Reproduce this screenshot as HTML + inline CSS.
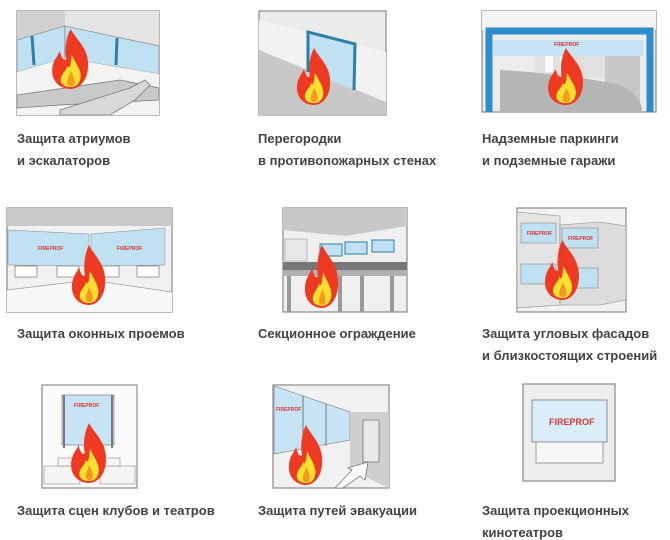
<!DOCTYPE html>
<html><head><meta charset="utf-8"><style>
html,body{margin:0;padding:0;background:#fff;}
svg{display:block}
text{font-family:"Liberation Sans","DejaVu Sans",sans-serif;font-weight:bold;font-size:13px;fill:#434343;}
.fp{font-size:5px;fill:#d9343a;font-weight:bold}
</style></head><body>
<svg width="670" height="540" viewBox="0 0 670 540" xmlns="http://www.w3.org/2000/svg">
<defs>
<g id="fl">
<path d="M20 0 C26 12 38 20 36 40 C35 52 28 60 20 60 C10 60 2 52 3 40 C4 30 8 28 10 22 C12 30 14 32 16 30 C14 20 16 8 20 0 Z" fill="#ef3a23"/>
<path d="M21 26 C25 35 31 42 29 50 C28 56 24 58 20 58 C14 58 10 55 11 49 C12 44 16 42 17 37 C19 40 20 38 21 26 Z" fill="#ffe030"/>
<path d="M20 42 C23 47 25 52 23 56 C21 58 18 57 17 55 C16 51 19 47 20 42 Z" fill="#f59a1f"/>
</g>
</defs>

<!-- P1 -->
<g>
<rect x="17" y="11" width="142" height="104" fill="#ececec" stroke="#8a8a8a" stroke-width="1.2"/>
<rect x="17" y="11" width="48" height="58" fill="#d0d0d0"/>
<polygon points="65,11 159,11 159,58 65,26" fill="#e4e4e4"/>
<polygon points="17,40 65,26 65,58 17,72" fill="#bfe1f1" stroke="#777" stroke-width="0.6"/>
<polygon points="65,26 159,46 159,74 65,58" fill="#bfe1f1" stroke="#777" stroke-width="0.6"/>
<line x1="32" y1="36" x2="34" y2="65" stroke="#2e7fa8" stroke-width="3"/>
<line x1="117" y1="38" x2="116" y2="65" stroke="#2e7fa8" stroke-width="3"/>
<polygon points="17,72 65,58 159,74 159,115 17,115" fill="#f3f3f3"/>
<polygon points="17,95 120,80 159,88 159,100 60,105 17,108" fill="#c9c9c9" stroke="#777" stroke-width="0.8"/>
<polygon points="60,110 130,88 145,80 150,85 135,100 110,115 60,115" fill="#d8d8d8" stroke="#777" stroke-width="0.8"/>
<use href="#fl" transform="translate(49,29) scale(1.08,1.0)"/>
</g>
<text x="17" y="143">Защита атриумов</text>
<text x="17" y="165">и эскалаторов</text>

<!-- P2 -->
<g>
<rect x="259" y="11" width="127" height="104" fill="#ebebeb" stroke="#8a8a8a" stroke-width="1.2"/>
<polygon points="259,20 386,52 386,102 259,50" fill="#f2f2f2"/>
<polygon points="259,50 386,102 386,115 259,115" fill="#c8c8c8"/>
<polygon points="308,32 355,44 354,90 308,72" fill="#bfe1f1"/>
<polyline points="308,72 308,32 355,44 354,90" fill="none" stroke="#2e7fa8" stroke-width="3"/>
<use href="#fl" transform="translate(294,48) scale(1.0,0.95)"/>
</g>
<text x="258" y="143">Перегородки</text>
<text x="258" y="165">в противопожарных стенах</text>

<!-- P3 -->
<g>
<rect x="482" y="11" width="174" height="101" fill="#ececec" stroke="#8a8a8a" stroke-width="1.2"/>
<rect x="482" y="11" width="174" height="19" fill="#f4f4f4"/>
<rect x="493" y="40" width="150" height="16" fill="#c6e4f3"/>
<rect x="535" y="56" width="75" height="22" fill="#e0e0e0"/>
<rect x="545" y="56" width="8" height="16" fill="#fafafa"/><rect x="560" y="56" width="8" height="16" fill="#fafafa"/>
<rect x="605" y="56" width="35" height="56" fill="#c8c8c8"/>
<path d="M500 70 C540 72 590 78 620 85 C640 95 642 105 642 112 L500 112 Z" fill="#b5b5b5"/>
<polyline points="489,112 489,31 650,31 650,112" fill="none" stroke="#2e8ccc" stroke-width="7"/>
<text class="fp" x="554" y="46">FIREPROF</text>
<use href="#fl" transform="translate(545,48) scale(1.05,0.95)"/>
</g>
<text x="482" y="143">Надземные паркинги</text>
<text x="482" y="165">и подземные гаражи</text>

<!-- P4 -->
<g>
<rect x="7" y="208" width="165" height="104" fill="#f1f1f1" stroke="#8a8a8a" stroke-width="1.2"/>
<rect x="7" y="208" width="165" height="18" fill="#c9c9c9"/>
<polygon points="8,230 89,234 89,266 8,265" fill="#bfe1f1" stroke="#888" stroke-width="0.5"/>
<polygon points="91,234 165,228 165,265 91,266" fill="#bfe1f1" stroke="#888" stroke-width="0.5"/>
<rect x="15" y="266" width="22" height="11" fill="#fff" stroke="#777" stroke-width="0.7"/>
<rect x="57" y="266" width="22" height="11" fill="#fff" stroke="#777" stroke-width="0.7"/>
<rect x="97" y="266" width="22" height="11" fill="#fff" stroke="#777" stroke-width="0.7"/>
<rect x="137" y="266" width="22" height="11" fill="#fff" stroke="#777" stroke-width="0.7"/>
<polygon points="7,290 90,280 172,292 172,312 7,312" fill="#f7f7f7"/>
<polyline points="7,290 90,280 172,292" fill="none" stroke="#999" stroke-width="0.7"/>
<text class="fp" x="38" y="250">FIREPROF</text><text class="fp" x="117" y="250">FIREPROF</text>
<use href="#fl" transform="translate(69,245) scale(1.0,1.0)"/>
</g>
<text x="17" y="338">Защита оконных проемов</text>

<!-- P5 -->
<g>
<rect x="283" y="208" width="124" height="104" fill="#efefef" stroke="#8a8a8a" stroke-width="1.2"/>
<polygon points="283,208 407,208 407,226 345,236 283,230" fill="#c8c8c8"/>
<rect x="285" y="239" width="22" height="22" fill="#e8e8e8" stroke="#999" stroke-width="0.6"/>
<rect x="320" y="244" width="22" height="12" fill="#bfe1f1" stroke="#2e7fa8" stroke-width="1"/>
<rect x="345" y="242" width="22" height="12" fill="#bfe1f1" stroke="#2e7fa8" stroke-width="1"/>
<rect x="372" y="240" width="22" height="12" fill="#bfe1f1" stroke="#2e7fa8" stroke-width="1"/>
<rect x="283" y="262" width="124" height="8" fill="#777"/>
<rect x="283" y="270" width="124" height="6" fill="#b0b0b0"/>
<rect x="287" y="276" width="4" height="36" fill="#999"/>
<rect x="338" y="276" width="4" height="36" fill="#999"/>
<rect x="360" y="276" width="4" height="36" fill="#999"/>
<rect x="390" y="276" width="4" height="36" fill="#999"/>
<use href="#fl" transform="translate(302,245) scale(1.0,1.05)"/>
</g>
<text x="258" y="338">Секционное ограждение</text>

<!-- P6 -->
<g>
<rect x="517" y="208" width="109" height="104" fill="#f1f1f1" stroke="#8a8a8a" stroke-width="1.2"/>
<polygon points="517,212 560,216 560,305 517,308" fill="#e4e4e4" stroke="#888" stroke-width="0.6"/>
<polygon points="560,225 600,222 626,226 626,300 600,305 560,305" fill="#dcdcdc" stroke="#888" stroke-width="0.6"/>
<rect x="521" y="223" width="35" height="20" fill="#bfe1f1" stroke="#777" stroke-width="0.5"/>
<rect x="562" y="228" width="36" height="20" fill="#bfe1f1" stroke="#777" stroke-width="0.5"/>
<rect x="521" y="264" width="35" height="20" fill="#bfe1f1" stroke="#777" stroke-width="0.5"/>
<rect x="562" y="268" width="36" height="20" fill="#bfe1f1" stroke="#777" stroke-width="0.5"/>
<text class="fp" x="527" y="235">FIREPROF</text><text class="fp" x="568" y="240">FIREPROF</text>
<use href="#fl" transform="translate(542,240) scale(1.02,1.0)"/>
</g>
<text x="482" y="338">Защита угловых фасадов</text>
<text x="482" y="360">и близкостоящих строений</text>

<!-- P7 -->
<g>
<rect x="42" y="385" width="95" height="103" fill="#fafafa" stroke="#8a8a8a" stroke-width="1.2"/>
<rect x="62" y="395" width="52" height="50" fill="#c6e4f3" stroke="#888" stroke-width="0.8"/>
<line x1="64" y1="395" x2="64" y2="448" stroke="#777" stroke-width="2"/>
<line x1="112" y1="395" x2="112" y2="448" stroke="#777" stroke-width="2"/>
<text class="fp" x="74" y="407">FIREPROF</text>
<g fill="#f4f4f4" stroke="#888" stroke-width="0.6">
<rect x="44" y="466" width="36" height="18"/><rect x="100" y="466" width="35" height="18"/>
<rect x="58" y="458" width="20" height="8"/><rect x="100" y="458" width="20" height="8"/>
</g>
<use href="#fl" transform="translate(68,423) scale(1.05,1.0)"/>
</g>
<text x="17" y="515">Защита сцен клубов и театров</text>

<!-- P8 -->
<g>
<rect x="273" y="385" width="116" height="103" fill="#f1f1f1" stroke="#8a8a8a" stroke-width="1.2"/>
<polygon points="274,386 350,412 350,440 274,454" fill="#c6e4f3" stroke="#777" stroke-width="0.6"/>
<line x1="303" y1="396" x2="303" y2="450" stroke="#777"/><line x1="326" y1="404" x2="326" y2="446" stroke="#777"/>
<polygon points="350,412 389,412 389,488 350,470" fill="#cfcfcf"/>
<rect x="363" y="420" width="16" height="42" fill="#e8e8e8" stroke="#777" stroke-width="0.8"/>
<polygon points="335,488 352,470 348,468 368,462 365,480 360,476 343,488" fill="#fff" stroke="#777" stroke-width="0.8"/>
<text class="fp" x="276" y="411">FIREPROF</text>
<use href="#fl" transform="translate(286,425) scale(1.0,1.0)"/>
</g>
<text x="258" y="515">Защита путей эвакуации</text>

<!-- P9 -->
<g>
<rect x="523" y="384" width="92" height="97" fill="#eeeeee" stroke="#8a8a8a" stroke-width="1.2"/>
<rect x="532" y="400" width="75" height="42" fill="#d9eef8" stroke="#777" stroke-width="0.8"/>
<rect x="536" y="442" width="67" height="21" fill="#f6f6f6" stroke="#888" stroke-width="0.8"/>
<text class="fp" x="549" y="425" style="font-size:9px">FIREPROF</text>
</g>
<text x="482" y="515">Защита проекционных</text>
<text x="482" y="537">кинотеатров</text>
</svg>
</body></html>
